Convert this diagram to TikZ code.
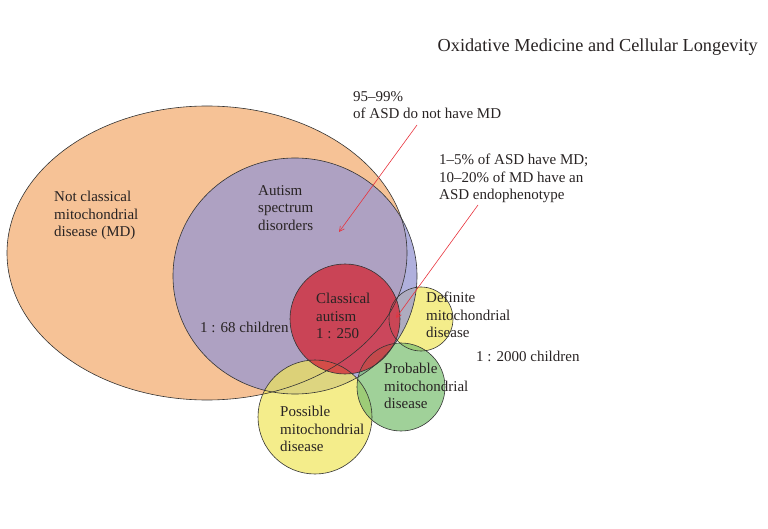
\documentclass[tikz,border=0pt]{standalone}
\usepackage{fontspec}
\setmainfont{Liberation Serif}
\usetikzlibrary{arrows.meta}
\definecolor{orangefill}{RGB}{246,194,150}
\definecolor{purplefill}{RGB}{150,150,210}
\definecolor{yellowfill}{RGB}{240,230,90}
\definecolor{greenfill}{RGB}{120,190,110}
\definecolor{redfill}{RGB}{210,45,60}
\definecolor{arrowred}{RGB}{232,50,60}
\definecolor{textcol}{RGB}{40,35,35}
\begin{document}
\begin{tikzpicture}[x=1pt,y=-1pt,
  setborder/.style={draw=black!80,line width=0.6pt},
  lbl/.style={anchor=north west,inner sep=0pt,align=left,text=textcol,
    font=\fontsize{15}{17.5}\selectfont},
  pointer/.style={draw=arrowred,line width=0.6pt,-{Straight Barb[length=5pt,width=5pt]}}]
\useasboundingbox (0,0) rectangle (768,529);
% fills
\fill[orangefill] (207,253) ellipse [x radius=200,y radius=147];
\fill[yellowfill,fill opacity=0.7] (421,319) circle [radius=32];
\fill[purplefill,fill opacity=0.75] (295,276) ellipse [x radius=122,y radius=118];
\fill[yellowfill,fill opacity=0.7] (315,417) circle [radius=57];
\fill[greenfill,fill opacity=0.7] (401,387) circle [radius=44];
\fill[redfill,fill opacity=0.8] (345,319) circle [radius=55];
% outlines
\draw[setborder] (207,253) ellipse [x radius=200,y radius=147];
\draw[setborder] (295,276) ellipse [x radius=122,y radius=118];
\draw[setborder] (421,319) circle [radius=32];
\draw[setborder] (315,417) circle [radius=57];
\draw[setborder] (401,387) circle [radius=44];
\draw[setborder] (345,319) circle [radius=55];
% title
\node[anchor=base east,inner sep=0pt,text=textcol,font=\fontsize{18.3}{22}\selectfont] (title) at (758,52) {Oxidative Medicine and Cellular Longevity};
% labels
\node[lbl] (notmd) at (54,191) {Not classical\\mitochondrial\\disease (MD)};
\node[lbl] (asd) at (258,185) {Autism\\spectrum\\disorders};
\node[lbl] (asdratio) at (200,322) {1 : 68 children};
\node[lbl] (classic) at (316,293) {Classical\\autism\\1 : 250};
\node[lbl] (definite) at (426,292) {Definite\\mitochondrial\\disease};
\node[lbl] (mdratio) at (476,351) {1 : 2000 children};
\node[lbl] (probable) at (384,363) {Probable\\mitochondrial\\disease};
\node[lbl] (possible) at (280,406) {Possible\\mitochondrial\\disease};
\node[lbl] (notmdnote) at (353,91) {95–99\%\\of ASD do not have MD};
\node[lbl] (mdnote) at (439,154) {1–5\% of ASD have MD;\\10–20\% of MD have an\\ASD endophenotype};
% pointers
\coordinate (p1s) at (417,125);
\coordinate (p1e) at (339,232);
\coordinate (p2s) at (478,205);
\coordinate (p2e) at (396,318);
\draw[pointer] (p1s) -- (p1e);
\draw[pointer] (p2s) -- (p2e);
\end{tikzpicture}
\end{document}
